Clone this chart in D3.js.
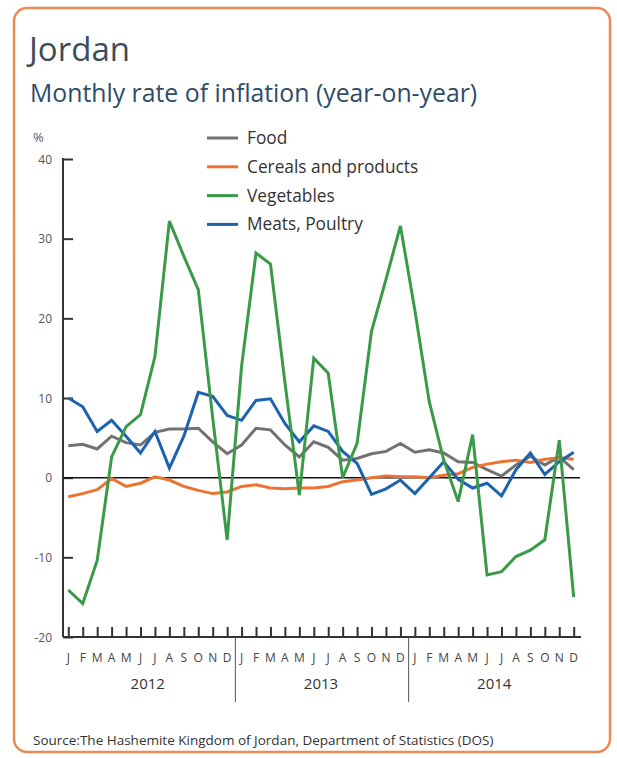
<!DOCTYPE html>
<html>
<head>
<meta charset="utf-8">
<script src="https://cdn.jsdelivr.net/npm/d3@7"></script>
<style>
  html, body { margin: 0; padding: 0; background: #ffffff; }
  svg { display: block; }
  text { font-family: "Open Sans", "Noto Sans", sans-serif; }
</style>
</head>
<body>
<svg id="chart" width="617" height="758"></svg>
<script>
// ---- Data ----
const monthLabels = ["J","F","M","A","M","J","J","A","S","O","N","D"];
const years = ["2012", "2013", "2014"];
const yTicks = [-20, -10, 0, 10, 20, 30, 40];

const food = [4.0, 4.2, 3.6, 5.2, 4.4, 4.1, 5.7, 6.1, 6.1, 6.2, 4.5, 3.0,
              4.1, 6.2, 6.0, 4.1, 2.6, 4.5, 3.8, 2.2, 2.4, 3.0, 3.3, 4.3,
              3.2, 3.5, 3.1, 2.0, 1.9, 1.0, 0.2, 1.6, 2.7, 1.6, 2.6, 1.0];
const cereals = [-2.4, -2.0, -1.5, -0.1, -1.1, -0.7, 0.1, -0.3, -1.1, -1.6, -2.0, -1.8,
                 -1.1, -0.9, -1.3, -1.4, -1.3, -1.3, -1.1, -0.5, -0.3, 0.0, 0.2, 0.1,
                 0.1, 0.0, 0.3, 0.5, 1.3, 1.7, 2.0, 2.2, 1.9, 2.3, 2.5, 2.3];
const vegetables = [-14.1, -15.8, -10.4, 2.6, 6.4, 7.9, 15.2, 32.2, 27.8, 23.6, 7.5, -7.8,
                    14.0, 28.2, 26.8, 12.0, -2.2, 15.0, 13.1, 0.0, 4.3, 18.4, 24.9, 31.6,
                    21.0, 9.5, 2.2, -3.0, 5.4, -12.2, -11.8, -9.9, -9.1, -7.8, 4.7, -15.0];
const meats = [10.0, 8.9, 5.8, 7.2, 5.2, 3.1, 5.8, 1.2, 5.2, 10.7, 10.2, 7.8,
               7.2, 9.7, 9.9, 6.8, 4.5, 6.5, 5.8, 3.3, 1.8, -2.1, -1.4, -0.3,
               -2.0, 0.0, 2.0, -0.2, -1.3, -0.7, -2.3, 1.0, 3.1, 0.4, 2.0, 3.2];

const seriesNames = ["Food", "Cereals and products", "Vegetables", "Meats, Poultry"];
const seriesColors = ["#727272", "#ec7432", "#3a9a48", "#1d62ae"];
const seriesData = [food, cereals, vegetables, meats];

// ---- Drawing ----
const svg = d3.select("#chart");

// frame
svg.append("rect")
  .attr("x", 14).attr("y", 8).attr("width", 596).attr("height", 744)
  .attr("rx", 13).attr("ry", 13)
  .attr("fill", "#ffffff").attr("stroke", "#ea8a55").attr("stroke-width", 2.5);

// titles
svg.append("text").attr("x", 29).attr("y", 61)
  .attr("font-size", 33).attr("fill", "#3b4d5c").text("Jordan");
svg.append("text").attr("x", 30).attr("y", 102)
  .attr("font-size", 24.8).attr("fill", "#2f4c68").text("Monthly rate of inflation (year-on-year)");

const nMonths = years.length * 12;
const x = d3.scaleLinear().domain([0, nMonths - 1]).range([68.3, 573.7]);
const y = d3.scaleLinear().domain([-20, 40]).range([637, 159]);
const axisLeftX = 63;
const axisRightX = 581;

// y axis
const yAxis = d3.axisRight(y).tickValues(yTicks).tickSize(10).tickFormat("");
const gy = svg.append("g").attr("transform", `translate(${axisLeftX},0)`).call(yAxis);
gy.select(".domain").remove();
gy.selectAll(".tick line").attr("stroke", "#333").attr("stroke-width", 2);
svg.append("line").attr("x1", axisLeftX).attr("x2", axisLeftX)
  .attr("y1", y(40) - 1).attr("y2", y(-20)).attr("stroke", "#333").attr("stroke-width", 2);
svg.selectAll(".ylab").data(yTicks).enter().append("text")
  .attr("class", "ylab")
  .attr("x", 52).attr("y", d => y(d) + 4.5)
  .attr("text-anchor", "end").attr("font-size", 12).attr("fill", "#555")
  .text(d => d);
svg.append("text").attr("x", 33).attr("y", 142).attr("font-size", 13).attr("fill", "#555").text("%");

// x axis
const idx = d3.range(nMonths);
const xAxis = d3.axisTop(x).tickValues(idx).tickSize(10).tickFormat("");
const gx = svg.append("g").attr("transform", `translate(0,${y(-20)})`).call(xAxis);
gx.select(".domain").remove();
gx.selectAll(".tick line").attr("stroke", "#333").attr("stroke-width", 2);
svg.append("line").attr("x1", axisLeftX).attr("x2", axisRightX)
  .attr("y1", y(-20)).attr("y2", y(-20)).attr("stroke", "#333").attr("stroke-width", 2);

svg.selectAll(".mlab").data(idx).enter().append("text")
  .attr("class", "mlab")
  .attr("x", d => x(d)).attr("y", 662)
  .attr("text-anchor", "middle").attr("font-size", 12).attr("fill", "#444")
  .text(d => monthLabels[d % 12]);

svg.selectAll(".ylabYear").data(years).enter().append("text")
  .attr("class", "ylabYear")
  .attr("x", (d, i) => (x(i * 12) + x(i * 12 + 11)) / 2).attr("y", 689)
  .attr("text-anchor", "middle").attr("font-size", 15).attr("fill", "#333")
  .text(d => d);

svg.selectAll(".ysep").data(d3.range(1, years.length)).enter().append("line")
  .attr("class", "ysep")
  .attr("x1", d => x(d * 12 - 0.5) + 1).attr("x2", d => x(d * 12 - 0.5) + 1)
  .attr("y1", y(-20)).attr("y2", 702)
  .attr("stroke", "#555").attr("stroke-width", 1);

// zero line
svg.append("line").attr("x1", axisLeftX).attr("x2", 580)
  .attr("y1", y(0)).attr("y2", y(0)).attr("stroke", "#111").attr("stroke-width", 1.5);

// series lines
const line = d3.line().x((d, i) => x(i)).y(d => y(d));
const drawOrder = [0, 1, 3, 2];
drawOrder.forEach(k => {
  svg.append("path").datum(seriesData[k])
    .attr("d", line)
    .attr("fill", "none")
    .attr("stroke", seriesColors[k])
    .attr("stroke-width", 3)
    .attr("stroke-linejoin", "miter")
    .attr("stroke-miterlimit", 3);
});

// legend
const leg = svg.append("g");
seriesNames.forEach((name, i) => {
  const ly = 138 + i * 28.8;
  leg.append("line").attr("x1", 207).attr("x2", 238).attr("y1", ly).attr("y2", ly)
    .attr("stroke", seriesColors[i]).attr("stroke-width", 3);
  leg.append("text").attr("x", 247).attr("y", ly + 6)
    .attr("font-size", 17.3).attr("fill", "#333").text(name);
});

// source
svg.append("text").attr("x", 33).attr("y", 745)
  .attr("font-size", 13.5).attr("fill", "#333")
  .text("Source:The Hashemite Kingdom of Jordan, Department of Statistics (DOS)");
</script>
</body>
</html>
